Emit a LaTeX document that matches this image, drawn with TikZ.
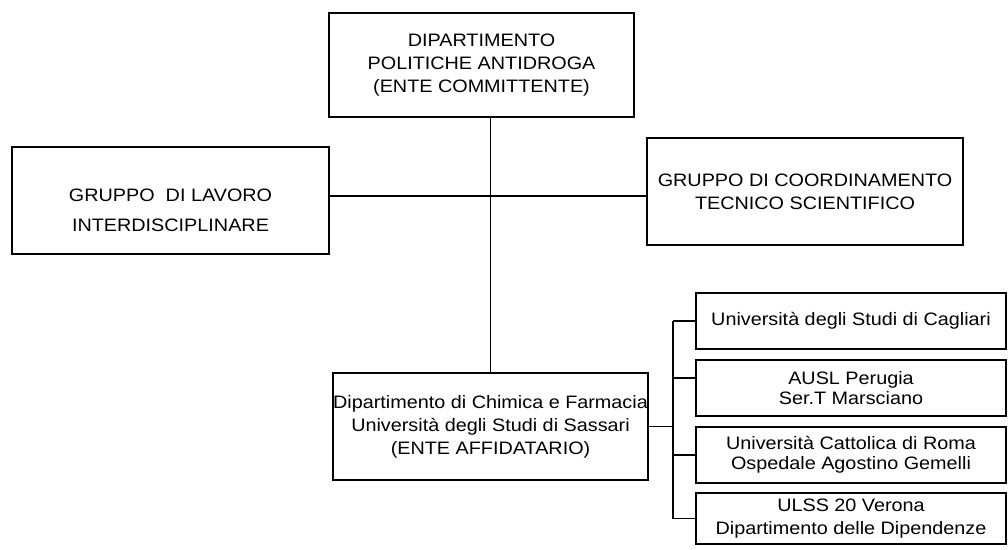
\documentclass[tikz,border=0pt]{standalone}
\usepackage{fontspec}
\setmainfont{Liberation Sans}[FakeStretch=1.1]
\usetikzlibrary{calc}
\begin{document}
\begin{tikzpicture}[x=1pt,y=-1pt,
  box/.style={draw,line width=1.2pt,rectangle,inner sep=0pt,align=center,font=\fontsize{18}{23}\selectfont},
  plain/.style={inner sep=0pt,align=center},
  conn/.style={line width=1.2pt}]
\useasboundingbox (0,0) rectangle (1008,549);
\fill[white] (0,0) rectangle (1008,549);
% main boxes
\node[box,minimum width=305,minimum height=104] (dpa) at (481.5,65) {DIPARTIMENTO\\POLITICHE ANTIDROGA\\(ENTE COMMITTENTE)};
\node[box,minimum width=317,minimum height=107] (lg) at (170.5,200.5) {};
\node[plain,font=\fontsize{18}{30}\selectfont] (lgt) at (170.5,210) {GRUPPO\ \ DI LAVORO\\INTERDISCIPLINARE};
\node[box,minimum width=316,minimum height=107] (tc) at (805,191.5) {GRUPPO DI COORDINAMENTO\\TECNICO SCIENTIFICO};
\node[box,minimum width=315,minimum height=107] (sas) at (490.5,426.5) {Dipartimento di Chimica e Farmacia\\Università degli Studi di Sassari\\(ENTE AFFIDATARIO)};
% partner boxes
\node[box,minimum width=310,minimum height=56] (cag) at (851,321) {Università degli Studi di Cagliari};
\node[box,minimum width=310,minimum height=56,font=\fontsize{18}{20}\selectfont] (aus) at (851,388) {AUSL Perugia\\Ser.T Marsciano};
\node[box,minimum width=310,minimum height=56,font=\fontsize{18}{20}\selectfont] (cat) at (851,455) {Università Cattolica di Roma\\Ospedale Agostino Gemelli};
\node[box,minimum width=310,minimum height=51] (uls) at (851,518.5) {ULSS 20 Verona\\Dipartimento delle Dipendenze};
% connectors
\coordinate (hy) at (0,196);
\coordinate (bus) at (673,0);
\draw[conn] (dpa.south -| sas.north) -- (sas.north);
\draw[conn] (lg.east |- hy) -- (tc.west |- hy);
\draw[conn] (sas.east) -- (sas.east -| bus);
\draw[conn] (bus |- cag.west) -- (bus |- uls.west);
\draw[conn] (bus |- cag.west) -- (cag.west);
\draw[conn] ($(aus.west)+(0,-10)$) coordinate (ausw) (bus |- ausw) -- (ausw);
\draw[conn] (bus |- cat.west) -- (cat.west);
\draw[conn] (bus |- uls.west) -- (uls.west);
\end{tikzpicture}
\end{document}
